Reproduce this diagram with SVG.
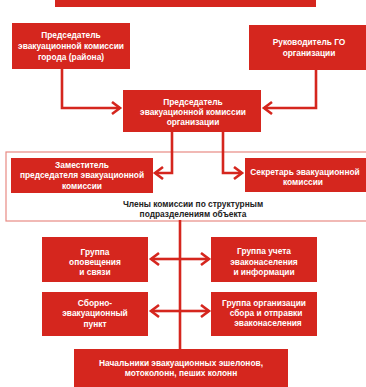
<svg xmlns="http://www.w3.org/2000/svg" width="366" height="387" viewBox="0 0 366 387">
<defs>
<style>
.box{fill:#d5261e;}
.t{font-family:"Liberation Sans",Arial,sans-serif;font-weight:bold;font-size:8.4px;fill:#fff;text-anchor:middle;}
.k{font-family:"Liberation Sans",Arial,sans-serif;font-weight:bold;font-size:8.4px;fill:#222;text-anchor:middle;}
.c{fill:none;stroke:#d5261e;stroke-width:2.6;}
.frame{fill:none;stroke:#e88a84;stroke-width:1.2;}
</style>
<marker id="ah" markerUnits="userSpaceOnUse" markerWidth="14" markerHeight="16" refX="10" refY="7" orient="auto">
<path d="M2,1 L10,7 L2,13" fill="none" stroke="#d5261e" stroke-width="2.6"/>
</marker>
</defs>
<rect width="366" height="387" fill="#fff"/>
<g id="top"><rect class="box" x="55" y="-5" width="261" height="12"/></g>
<g id="frame"><rect class="frame" x="6" y="152" width="370" height="69"/>
<text class="k" x="193" y="207">Члены комиссии по структурным</text>
<text class="k" x="193" y="217">подразделениям объекта</text></g>
<g id="connectors">
<path class="c" d="M62,69 V108 H120" marker-end="url(#ah)"/>
<path class="c" d="M316,70 V108 H264" marker-end="url(#ah)"/>
<path class="c" d="M172,132 V173 H155" marker-end="url(#ah)"/>
<path class="c" d="M223,132 V173 H242" marker-end="url(#ah)"/>
<path class="c" d="M180,220 V349"/>
<path class="c" d="M180,259 H151" marker-end="url(#ah)"/>
<path class="c" d="M180,259 H209" marker-end="url(#ah)"/>
<path class="c" d="M180,311 H151" marker-end="url(#ah)"/>
<path class="c" d="M180,311 H209" marker-end="url(#ah)"/>
</g>
<g id="n1"><rect class="box" x="12" y="23" width="118" height="46"/>
<text class="t" x="71" y="38">Председатель</text>
<text class="t" x="71" y="49">эвакуационной комиссии</text>
<text class="t" x="71" y="60">города (района)</text></g>
<g id="n2"><rect class="box" x="249" y="25" width="117" height="45"/>
<text class="t" x="309" y="45">Руководитель ГО</text>
<text class="t" x="309" y="56">организации</text></g>
<g id="n3"><rect class="box" x="123" y="90" width="138" height="42"/>
<text class="t" x="193" y="105">Председатель</text>
<text class="t" x="193" y="115">эвакуационной комиссии</text>
<text class="t" x="193" y="125">организации</text></g>
<g id="n4"><rect class="box" x="11" y="158" width="142" height="35"/>
<text class="t" x="82" y="168">Заместитель</text>
<text class="t" x="82" y="178">председателя эвакуационной</text>
<text class="t" x="82" y="189">комиссии</text></g>
<g id="n5"><rect class="box" x="245" y="158" width="121" height="34"/>
<text class="t" x="305" y="175">Секретарь эвакуационной</text>
<text class="t" x="303" y="185">комиссии</text></g>
<g id="n6"><rect class="box" x="42" y="237" width="106" height="45"/>
<text class="t" x="95" y="255">Группа</text>
<text class="t" x="95" y="265">оповещения</text>
<text class="t" x="95" y="275">и связи</text></g>
<g id="n7"><rect class="box" x="42" y="292" width="106" height="44"/>
<text class="t" x="95" y="306">Сборно-</text>
<text class="t" x="95" y="316">эвакуационный</text>
<text class="t" x="95" y="327">пункт</text></g>
<g id="n8"><rect class="box" x="211" y="237" width="106" height="45"/>
<text class="t" x="264" y="254">Группа учета</text>
<text class="t" x="264" y="265">эваконаселения</text>
<text class="t" x="264" y="275">и информации</text></g>
<g id="n9"><rect class="box" x="211" y="292" width="106" height="44"/>
<text class="t" x="264" y="306">Группа организации</text>
<text class="t" x="266" y="316">сбора и отправки</text>
<text class="t" x="268" y="326">эваконаселения</text></g>
<g id="n10"><rect class="box" x="74" y="349" width="214" height="45"/>
<text class="t" x="181" y="366">Начальники эвакуационных эшелонов,</text>
<text class="t" x="181" y="376">мотоколонн, пеших колонн</text></g>
</svg>
